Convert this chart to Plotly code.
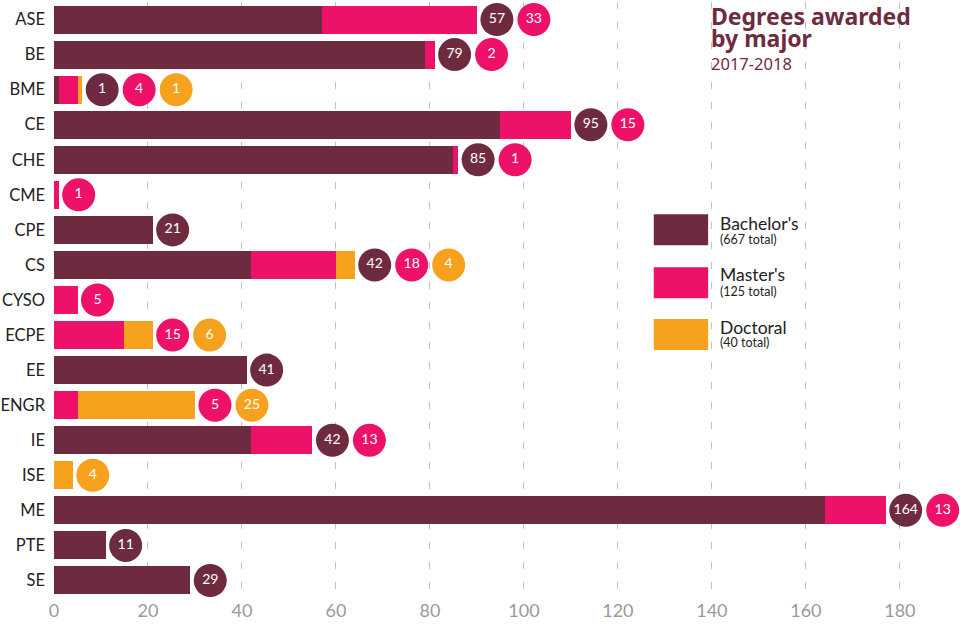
import plotly.graph_objects as go

majors = ["ASE", "BE", "BME", "CE", "CHE", "CME", "CPE", "CS", "CYSO", "ECPE",
          "EE", "ENGR", "IE", "ISE", "ME", "PTE", "SE"]
bachelors = [57, 79, 1, 95, 85, 0, 21, 42, 0, 0, 41, 0, 42, 0, 164, 11, 29]
masters = [33, 2, 4, 15, 1, 1, 0, 18, 5, 15, 0, 5, 13, 0, 13, 0, 0]
doctoral = [0, 0, 1, 0, 0, 0, 0, 4, 0, 6, 0, 25, 0, 4, 0, 0, 0]
x_ticks = [0, 20, 40, 60, 80, 100, 120, 140, 160, 180]

C_B = "#6e2b3f"
C_M = "#ee1169"
C_D = "#f7a21e"
FONT = "Lato"

fig = go.Figure()
for name, vals, col in [("Bachelor's", bachelors, C_B), ("Master's", masters, C_M),
                        ("Doctoral", doctoral, C_D)]:
    fig.add_trace(go.Bar(y=majors, x=vals, orientation="h", name=name,
                         marker=dict(color=col, line=dict(width=0)), width=0.8,
                         showlegend=False, hoverinfo="x+y"))

# value bubbles after each bar
first_off = 4.25
step = 7.87
bx, by, bt, bc = [], [], [], []
for i, m in enumerate(majors):
    total = bachelors[i] + masters[i] + doctoral[i]
    k = 0
    for v, col in [(bachelors[i], C_B), (masters[i], C_M), (doctoral[i], C_D)]:
        if v > 0:
            bx.append(total + first_off + k * step)
            by.append(m)
            bt.append(str(v))
            bc.append(col)
            k += 1
fig.add_trace(go.Scatter(x=bx, y=by, mode="markers+text", text=bt,
                         textposition="middle center",
                         textfont=dict(color="white", size=14, family=FONT),
                         marker=dict(size=33, color=bc, line=dict(width=0)),
                         showlegend=False, cliponaxis=False, hoverinfo="skip"))

fig.update_layout(
    width=960, height=625,
    margin=dict(l=54, r=0, t=2, b=27),
    paper_bgcolor="white", plot_bgcolor="white",
    barmode="stack",
    font=dict(family=FONT),
    xaxis=dict(range=[0, 192.8], tickvals=x_ticks, showgrid=True,
               gridcolor="#c2c2c2", gridwidth=1, griddash="7px,13px",
               zeroline=True, zerolinecolor="rgba(0,0,0,0)",
               showline=False, ticks="",
               tickfont=dict(size=18, color="#9a9a9a", family=FONT)),
    yaxis=dict(range=[len(majors) - 0.5, -0.5], showgrid=False, zeroline=False,
               ticks="", ticklabelstandoff=8,
               tickfont=dict(size=16.5, color="#222222", family=FONT)),
)

# title block
fig.add_annotation(xref="paper", yref="paper", x=0.723, y=0.977, xanchor="left",
                   yanchor="middle", align="left", showarrow=False,
                   text="<b>Degrees awarded</b>",
                   font=dict(size=23, color=C_B, family="Noto Sans"))
fig.add_annotation(xref="paper", yref="paper", x=0.723, y=0.939, xanchor="left",
                   yanchor="middle", align="left", showarrow=False,
                   text="<b>by major</b>",
                   font=dict(size=23, color=C_B, family="Noto Sans"))
fig.add_annotation(xref="paper", yref="paper", x=0.723, y=0.897, xanchor="left",
                   yanchor="middle", align="left", showarrow=False,
                   text="2017-2018",
                   font=dict(size=16.5, color=C_B, family="Noto Sans"))

# legend
totals = [sum(bachelors), sum(masters), sum(doctoral)]
leg = [("Bachelor's", C_B, 0.644, 0.592, 0.629, 0.602),
       ("Master's", C_M, 0.555, 0.503, 0.542, 0.515),
       ("Doctoral", C_D, 0.468, 0.416, 0.454, 0.428)]
for (name, col, y1, y0, ty, sy), tot in zip(leg, totals):
    fig.add_shape(type="rect", xref="paper", yref="paper", x0=0.662, x1=0.722,
                  y0=y0, y1=y1, fillcolor=col, line=dict(width=0), layer="above")
    fig.add_annotation(xref="paper", yref="paper", x=0.733, y=ty, xanchor="left",
                       yanchor="middle", showarrow=False, text=name,
                       font=dict(size=17.5, color="#222222", family=FONT))
    fig.add_annotation(xref="paper", yref="paper", x=0.733, y=sy, xanchor="left",
                       yanchor="middle", showarrow=False, text=f"({tot} total)",
                       font=dict(size=12.5, color="#222222", family=FONT))

fig.write_html("out.html", config={"displayModeBar": False},
               post_script="document.body.style.margin='0';")
